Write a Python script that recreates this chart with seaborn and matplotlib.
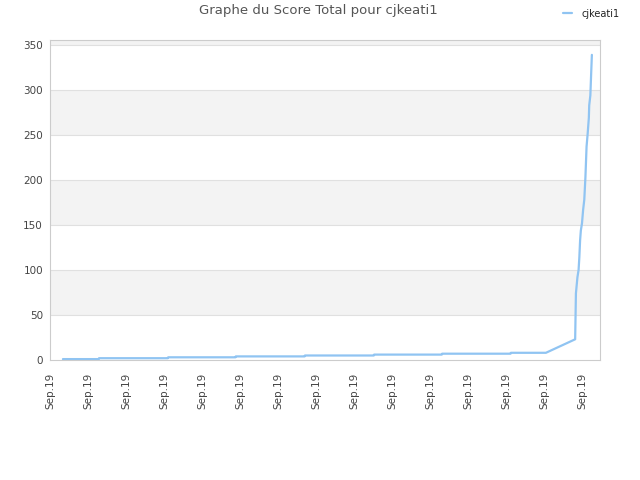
import matplotlib
matplotlib.use("Agg")
import matplotlib.pyplot as plt
import seaborn as sns
import pandas as pd

# Score total au fil du temps (x en unités de graduation)
temps = [0.34, 1.28, 1.29, 3.10, 3.11, 4.88, 4.89, 6.70, 6.71, 8.52, 8.53,
         10.31, 10.32, 12.12, 12.13, 13.05, 13.82, 13.84, 13.88, 13.91, 13.93,
         13.95, 13.97, 14.00, 14.03, 14.06, 14.09, 14.12, 14.15, 14.18, 14.19,
         14.22, 14.24, 14.26]
score = [1, 1, 2, 2, 3, 3, 4, 4, 5, 5, 6, 6, 7, 7, 8, 8, 23, 74, 92, 100, 114,
         133, 144, 152, 167, 178, 203, 237, 252, 269, 283, 294, 317, 339]
etiquettes_x = ["Sep.19"] * 15
joueur = "cjkeati1"

dados = pd.DataFrame({"temps": temps, "score": score, "joueur": joueur})

sns.set_style("white")
plt.rcParams['font.family'] = ['DejaVu Sans']

fig = plt.figure(figsize=(6.4, 4.8), dpi=100)
ax = fig.add_axes([50 / 640, 120 / 480, 550 / 640, 320 / 480])

# bandes alternées
for bas in range(0, 400, 50):
    if (bas // 50) % 2 == 1:
        ax.axhspan(bas, bas + 50, color='#f3f3f3', zorder=0, lw=0)
for niveau in range(50, 400, 50):
    ax.axhline(niveau, color='#e0e0e0', lw=0.8, zorder=1)

sns.lineplot(data=dados, x="temps", y="score", estimator=None, sort=False,
             color='#90c4f2', lw=1.6, ax=ax, label=joueur, zorder=3)

ax.set_xlim(0, 550 / 38)
ax.set_ylim(0, 355.5)
ax.set_xticks(range(len(etiquettes_x)))
ax.set_xticklabels(etiquettes_x, rotation=90, fontsize=7.5, color='#444444')
ax.set_yticks(range(0, 351, 50))
ax.set_yticklabels([str(v) for v in range(0, 351, 50)], fontsize=7.5, color='#444444')
ax.tick_params(axis='x', length=0, pad=9)
ax.tick_params(axis='y', length=0, pad=5)
ax.set_xlabel("")
ax.set_ylabel("")
for cote in ax.spines.values():
    cote.set_color('#cccccc')
    cote.set_linewidth(0.8)

ax.get_legend().remove()
poignees, noms = ax.get_legend_handles_labels()
fig.legend(poignees, noms, loc='upper right', bbox_to_anchor=(628 / 640, 1.0),
           frameon=False, fontsize=7, handlelength=1.0, handletextpad=0.9,
           labelcolor='#222222')

fig.suptitle("Graphe du Score Total pour cjkeati1", x=318 / 640, y=1 - 4 / 480,
             va='top', fontsize=9.5, color='#555555')

fig.savefig("out.png", dpi=100)
